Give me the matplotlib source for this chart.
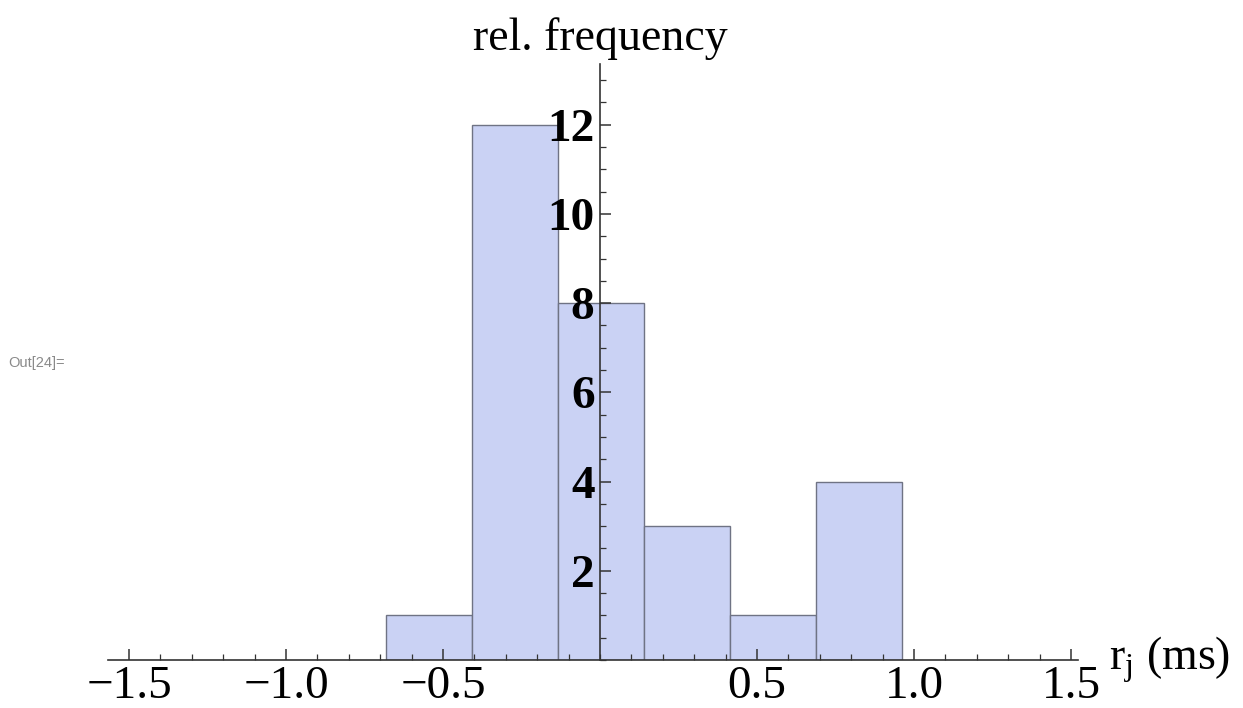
"""Histogram of timing residuals r_j, drawn with axes crossing at the origin."""

import matplotlib.pyplot as plt
import numpy as np
from matplotlib.ticker import FixedLocator, MultipleLocator

# bin edges (ms) and counts per bin
bin_edges = [-0.682, -0.408, -0.134, 0.139, 0.413, 0.687, 0.962]
counts = [1, 12, 8, 3, 1, 4]

x_ticks = [-1.5, -1.0, -0.5, 0.5, 1.0, 1.5]
y_ticks = [2, 4, 6, 8, 10, 12]

plt.rcParams["mathtext.fontset"] = "custom"
plt.rcParams["mathtext.rm"] = "Liberation Serif"
SERIF = "Liberation Serif"

fig = plt.figure(figsize=(12.43, 7.08), dpi=100)
ax = fig.add_axes([108 / 1243, 48 / 708, 970 / 1243, 596 / 708])

edges = np.asarray(bin_edges)
ax.bar(edges[:-1], counts, width=np.diff(edges), align="edge",
       color="#cad2f4", edgecolor="#6f7384", linewidth=1.0, zorder=1)

ax.set_xlim(-1.567, 1.522)
ax.set_ylim(0, 13.36)

# axes through the origin
for side in ("top", "right"):
    ax.spines[side].set_visible(False)
ax.spines["left"].set_position(("data", 0))
ax.spines["bottom"].set_position(("data", 0))
for side in ("left", "bottom"):
    ax.spines[side].set_color("#333333")
    ax.spines[side].set_linewidth(1.2)
    ax.spines[side].set_zorder(3)

ax.xaxis.set_major_locator(FixedLocator(x_ticks))
ax.xaxis.set_minor_locator(MultipleLocator(0.1))
ax.yaxis.set_major_locator(FixedLocator(y_ticks))
ax.yaxis.set_minor_locator(MultipleLocator(0.5))
ax.set_xticklabels([f"{v:.1f}".replace("-", "\u2212") for v in x_ticks])
ax.set_yticklabels([str(v) for v in y_ticks])

ax.tick_params(axis="both", which="both", direction="in", color="#333333")
ax.tick_params(axis="both", which="major", length=8, width=1.1)
ax.tick_params(axis="both", which="minor", length=4.5, width=0.9)
ax.tick_params(axis="x", which="major", pad=4)
ax.tick_params(axis="y", which="major", pad=4)

for lbl in ax.get_xticklabels():
    lbl.set_fontfamily(SERIF)
    lbl.set_fontsize(34)
for lbl in ax.get_yticklabels():
    lbl.set_fontfamily(SERIF)
    lbl.set_fontsize(34)
    lbl.set_fontweight("bold")

# axis labels at the ends of the axes
ax.text(0, 13.45, "rel. frequency", transform=ax.transData,
        ha="center", va="bottom", fontsize=33, family=SERIF, clip_on=False)
ax.text(1.522 + 0.1, 0, r"$\mathrm{r_j}$ (ms)", transform=ax.transData,
        ha="left", va="center", fontsize=33, family=SERIF, clip_on=False)

fig.text(8 / 1243, 1 - 363 / 708, "Out[24]=", ha="left", va="center",
         fontsize=10.5, color="#8a8a8a", family="Liberation Sans")

fig.savefig("out.png", dpi=100)
